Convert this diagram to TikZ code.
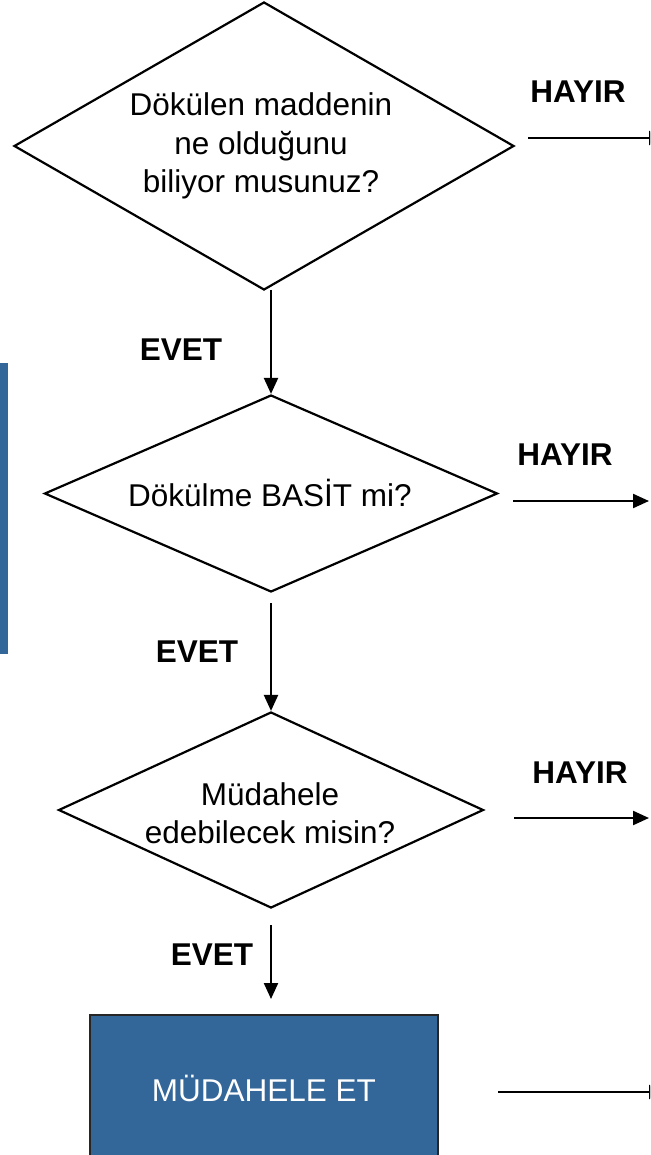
\documentclass[tikz,border=0pt]{standalone}
\usepackage{fontspec}
\setmainfont{Liberation Sans}
\usetikzlibrary{arrows.meta,shapes.geometric}
\definecolor{boxblue}{RGB}{51,102,153}
\begin{document}
\begin{tikzpicture}[x=1pt,y=-1pt,
  dia/.style={draw=black,line width=2.2pt,diamond,inner sep=0pt,aspect=1},
  txt/.style={align=center,font=\fontsize{31.5}{38.5}\selectfont,inner sep=0pt},
  lab/.style={font=\fontsize{31.5}{38}\selectfont\bfseries,inner sep=0pt},
  arr/.style={line width=2.2pt,-{Triangle[width=14pt,length=16pt]}},
  act/.style={draw=black!85,line width=2.2pt,fill=boxblue,text=white,inner sep=0pt,
    font=\fontsize{31.5}{38}\selectfont}]
\useasboundingbox (0,0) rectangle (650,1155);
\clip (0,0) rectangle (650,1155);
% left blue bar
\fill[boxblue] (0,363) rectangle (8,654);
% diamond 1
\node[dia,minimum width=500pt,minimum height=288pt] (d1) at (264,146) {};
\node[txt] (t1) at (261,146) {Dökülen maddenin\\ne olduğunu\\biliyor musunuz?};
% diamond 2
\node[dia,minimum width=453pt,minimum height=197pt] (d2) at (271,493.5) {};
\node[txt] (t2) at (270,493) {Dökülme BASİT mi?};
% diamond 3
\node[dia,minimum width=425pt,minimum height=196pt] (d3) at (271,810) {};
\node[txt] (t3) at (270,813) {Müdahele\\edebilecek misin?};
% action box
\node[act,minimum width=348pt,minimum height=146pt] (m) at (264,1088) {MÜDAHELE ET};
% vertical connectors
\coordinate (v1s) at (271,290);
\coordinate (v2s) at (271,603);
\coordinate (v3s) at (271,925);
\coordinate (v3e) at (271,999);
\draw[arr] (v1s) -- (d2.north);
\draw[arr] (v2s) -- (d3.north);
\draw[arr] (v3s) -- (v3e);
\node[lab] (e1) at (181,350) {EVET};
\node[lab] (e2) at (197,652) {EVET};
\node[lab] (e3) at (212,955) {EVET};
% HAYIR connectors
\coordinate (h1s) at (528,138); \coordinate (h1e) at (665,138);
\coordinate (h2s) at (513,501); \coordinate (h2e) at (649,501);
\coordinate (h3s) at (514,818); \coordinate (h3e) at (649,818);
\coordinate (h4s) at (498,1092); \coordinate (h4e) at (665,1092);
\draw[arr] (h1s) -- (h1e);
\draw[arr] (h2s) -- (h2e);
\draw[arr] (h3s) -- (h3e);
\draw[arr] (h4s) -- (h4e);
\node[lab] (n1) at (578,92) {HAYIR};
\node[lab] (n2) at (565,455) {HAYIR};
\node[lab] (n3) at (580,773) {HAYIR};
\end{tikzpicture}
\end{document}
